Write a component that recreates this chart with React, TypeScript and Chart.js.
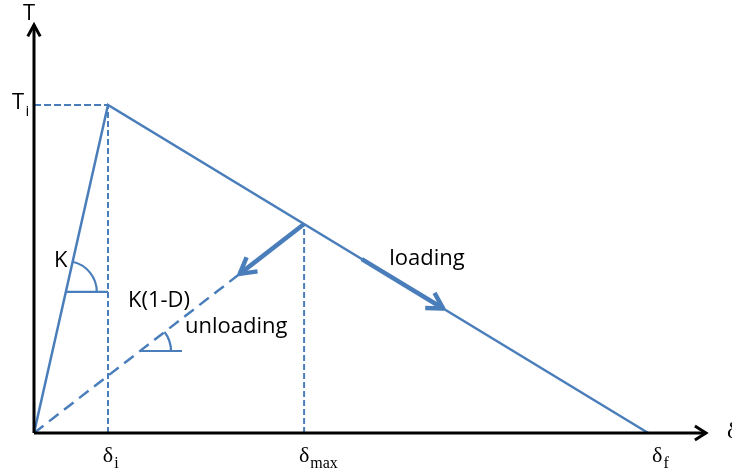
import { useEffect, useRef } from 'react';
import { Chart, registerables } from 'chart.js';

Chart.register(...registerables);

// Characteristic separations (δ) and peak traction (T), in normalised units
const deltaNames = ['i', 'max', 'f'];
const deltaValues = [1, 3.65, 8.3];
const peakTraction = [1];
// where the thick unloading arrow ends, and the thick loading arrow span
const unloadArrowEnd = [2.78];
const loadArrowSpan = [4.43, 5.53];
// axis arrow tips (x on δ axis, y on T axis)
const axisTips = [9.08, 1.244];
// angle markers: traction level where each angle sits, and its horizontal leg end
const angleLevels = [0.43, 0.25];
const angleLegEnds = [1, 2.0];

// text labels in chart units
const labelTexts = ['K', 'K(1-D)', 'unloading', 'loading'];
const labelX = [0.27, 1.27, 2.04, 4.8];
const labelY = [0.506, 0.384, 0.305, 0.512];

const BLUE = '#4a7ebb';
const SANS = '"Open Sans", "Liberation Sans", sans-serif';
const SERIF = '"Liberation Serif", "Times New Roman", serif';

const [dI, dMax, dF] = deltaValues;
const Ti = peakTraction[0];
const soft = (d: number) => (Ti * (dF - d)) / (dF - dI);
const Tmax = soft(dMax);
const unload = (d: number) => (Tmax * d) / dMax;

function chevron(ctx: CanvasRenderingContext2D, tx: number, ty: number, fx: number, fy: number, len: number, half: number) {
  const a = Math.atan2(fy - ty, fx - tx);
  ctx.beginPath();
  ctx.moveTo(tx + len * Math.cos(a + half), ty + len * Math.sin(a + half));
  ctx.lineTo(tx, ty);
  ctx.lineTo(tx + len * Math.cos(a - half), ty + len * Math.sin(a - half));
  ctx.stroke();
}

const decorPlugin = {
  id: 'decor',
  afterDatasetsDraw(chart: any) {
    const ctx: CanvasRenderingContext2D = chart.ctx;
    const xs = chart.scales.x;
    const ys = chart.scales.y;
    const px = (v: number) => xs.getPixelForValue(v);
    const py = (v: number) => ys.getPixelForValue(v);
    ctx.save();

    // axes
    ctx.strokeStyle = '#000';
    ctx.lineWidth = 3;
    ctx.lineCap = 'butt';
    ctx.lineJoin = 'miter';
    ctx.beginPath();
    ctx.moveTo(px(0), py(0));
    ctx.lineTo(px(axisTips[0]), py(0));
    ctx.moveTo(px(0), py(0));
    ctx.lineTo(px(0), py(axisTips[1]));
    ctx.stroke();
    chevron(ctx, px(axisTips[0]), py(0), px(0), py(0), 13, 0.56);
    chevron(ctx, px(0), py(axisTips[1]), px(0), py(0), 13, 0.5);

    // blue arrowheads
    ctx.strokeStyle = BLUE;
    ctx.lineWidth = 4.5;
    ctx.lineJoin = 'round';
    const ue = unloadArrowEnd[0];
    chevron(ctx, px(ue), py(unload(ue)), px(dMax), py(Tmax), 18, 0.52);
    const [l0, l1] = loadArrowSpan;
    chevron(ctx, px(l1), py(soft(l1)), px(l0), py(soft(l0)), 18, 0.52);

    // angle markers
    ctx.lineWidth = 2.2;
    const slopes = [Ti / dI, Tmax / dMax];
    angleLevels.forEach((lvl, i) => {
      const d0 = lvl / slopes[i];
      const cx = px(d0);
      const cy = py(lvl);
      ctx.beginPath();
      ctx.moveTo(cx, cy);
      ctx.lineTo(px(angleLegEnds[i]), cy);
      ctx.stroke();
      const ang = Math.atan2(py(slopes[i]) - py(0), px(1) - px(0));
      ctx.beginPath();
      ctx.arc(cx, cy, 31, ang, 0);
      ctx.stroke();
    });

    // sans labels
    ctx.fillStyle = '#000';
    ctx.textBaseline = 'alphabetic';
    ctx.textAlign = 'left';
    ctx.font = `22px ${SANS}`;
    labelTexts.forEach((t, i) => ctx.fillText(t, px(labelX[i]), py(labelY[i])));

    // axis titles
    ctx.fillText('T', px(0) - 11, py(axisTips[1]) - 5);
    ctx.fillText('T', px(0) - 22, py(Ti) + 4);
    ctx.font = `15px ${SANS}`;
    ctx.fillText('i', px(0) - 8.5, py(Ti) + 11);

    // δ tick labels
    deltaValues.forEach((v, i) => {
      ctx.font = `22px ${SERIF}`;
      const w = ctx.measureText('δ').width;
      const x0 = px(v) - w / 2 + (deltaNames[i] === 'f' ? 9 : 0);
      const base = py(0) + 29;
      ctx.fillText('δ', x0, base);
      ctx.font = `16px ${SERIF}`;
      ctx.fillText(deltaNames[i], x0 + w + 1, base + 6);
    });
    ctx.font = `24px ${SERIF}`;
    ctx.fillText('δ', px(axisTips[0]) + 21, py(0) + 5);

    ctx.restore();
  },
};

export default function App() {
  const ref = useRef<HTMLCanvasElement>(null);
  useEffect(() => {
    if (!ref.current) return;
    const line = (data: { x: number; y: number }[], extra: any = {}) => ({
      data,
      showLine: true,
      pointRadius: 0,
      borderColor: BLUE,
      borderWidth: 2.5,
      fill: false,
      tension: 0,
      ...extra,
    });
    const ue = unloadArrowEnd[0];
    const [l0, l1] = loadArrowSpan;
    const chart = new Chart(ref.current, {
      type: 'scatter',
      data: {
        datasets: [
          line([{ x: 0, y: Ti }, { x: dI, y: Ti }], { borderDash: [7, 3], borderWidth: 2 }),
          line([{ x: dI, y: 0 }, { x: dI, y: Ti }], { borderDash: [6, 3], borderWidth: 2 }),
          line([{ x: dMax, y: 0 }, { x: dMax, y: Tmax }], { borderDash: [6, 3], borderWidth: 2 }),
          line([{ x: 0, y: 0 }, { x: ue, y: unload(ue) }], { borderDash: [12, 7], borderWidth: 2.5 }),
          line([{ x: 0, y: 0 }, { x: dI, y: Ti }, { x: dF, y: 0 }]),
          line([{ x: dMax, y: Tmax }, { x: ue, y: unload(ue) }], { borderWidth: 4.5 }),
          line([{ x: l0, y: soft(l0) }, { x: l1, y: soft(l1) }], { borderWidth: 4.5 }),
        ],
      },
      options: {
        animation: false,
        responsive: false,
        devicePixelRatio: 1,
        events: [],
        layout: { padding: 0 },
        plugins: { legend: { display: false }, tooltip: { enabled: false } },
        scales: {
          x: { type: 'linear', display: false, min: -34 / 74, max: 698 / 74 },
          y: { type: 'linear', display: false, min: -41 / 328, max: 433 / 328 },
        },
      },
      plugins: [decorPlugin],
    });
    return () => chart.destroy();
  }, []);
  return (
    <div style={{ position: 'absolute', left: 0, top: 0, width: 732, height: 474, background: '#fff' }}>
      <canvas ref={ref} width={732} height={474} style={{ display: 'block' }} />
    </div>
  );
}
